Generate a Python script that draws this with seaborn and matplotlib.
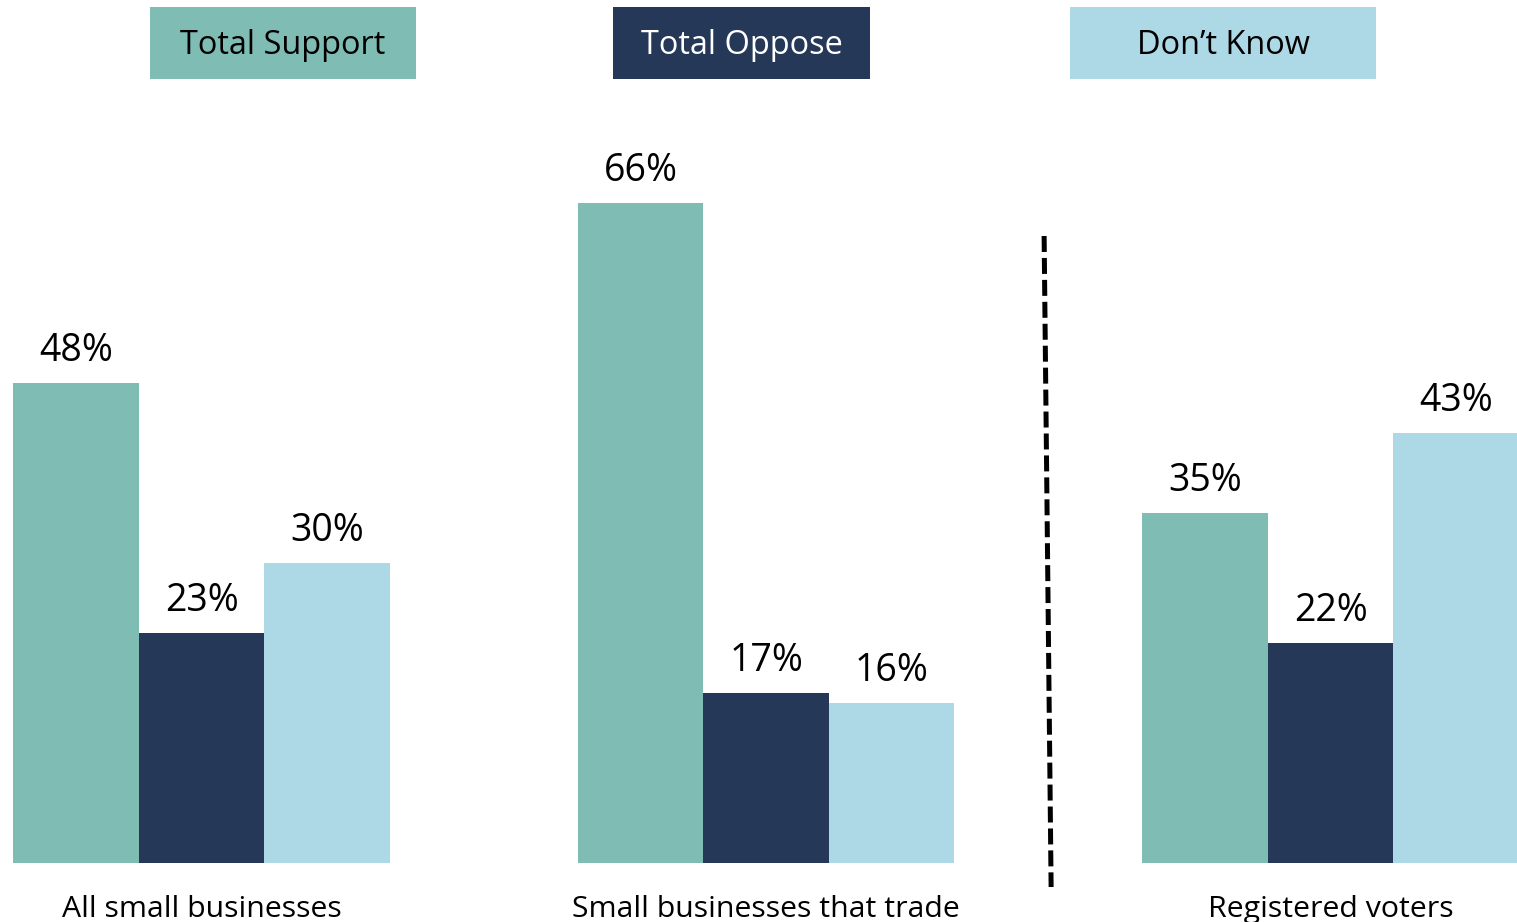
import matplotlib
matplotlib.use("Agg")
import matplotlib.pyplot as plt
import seaborn as sns
import pandas as pd
from matplotlib.patches import Rectangle
from matplotlib.lines import Line2D

groups = ["All small businesses", "Small businesses that trade", "Registered voters"]
series = ["Total Support", "Total Oppose", "Don\u2019t Know"]
support = [48, 66, 35]
oppose = [23, 17, 22]
dont_know = [30, 16, 43]
colors = ["#7FBCB3", "#253858", "#ADD8E6"]
text_colors = ["black", "white", "black"]

rows = []
for s, vals in zip(series, [support, oppose, dont_know]):
    for g, v in zip(groups, vals):
        rows.append({"group": g, "series": s, "value": v})
df = pd.DataFrame(rows)

sns.set_theme(style="white")
plt.rcParams["font.family"] = ["Open Sans", "DejaVu Sans"]
plt.rcParams["lines.scale_dashes"] = False

W, H = 1517, 922
fig = plt.figure(figsize=(W / 100, H / 100), dpi=100)
ax = fig.add_axes([0, 59 / H, 1, 863 / H])
sns.barplot(data=df, x="group", y="value", hue="series", order=groups,
            hue_order=series, palette=colors, width=0.667, saturation=1,
            gap=0, legend=False, ax=ax, errorbar=None, linewidth=0)
ax.set_xlim(-0.357, 2.330)
ax.set_ylim(0, 86.3)
ax.axis("off")

fs = 27
for cont in ax.containers:
    for bar in cont:
        bar.set_edgecolor("none")
        bar.set_linewidth(0)
        h = bar.get_height()
        ax.text(bar.get_x() + bar.get_width() / 2, h + 3.2, f"{h:.0f}%",
                ha="center", va="center", fontsize=fs, color="black")

# category labels
for i, g in enumerate(groups):
    xf = fig.transFigure.inverted().transform(ax.transData.transform((i, 0)))[0]
    fig.text(xf, 5 / H, g, ha="center", va="baseline", fontsize=21.8, color="black")

# legend boxes
boxes = [(150, 416), (613, 870), (1070, 1376)]
for (x0, x1), s, c, tc in zip(boxes, series, colors, text_colors):
    y0, y1 = 7, 79
    fig.patches.append(Rectangle((x0 / W, 1 - y1 / H), (x1 - x0) / W, (y1 - y0) / H,
                                 transform=fig.transFigure, facecolor=c,
                                 edgecolor="none", zorder=1))
    fig.text((x0 + x1) / 2 / W, 1 - 45 / H, s, ha="center", va="center",
             fontsize=23.4, color=tc, zorder=2)

# dashed separator
line = Line2D([1.4924, 1.5048], [62.7, -2.4], color="black", linewidth=3.6,
              linestyle=(0, (11.5, 4.3)), dash_capstyle="butt", clip_on=False)
ax.add_line(line)

fig.savefig("out.png", dpi=100)
